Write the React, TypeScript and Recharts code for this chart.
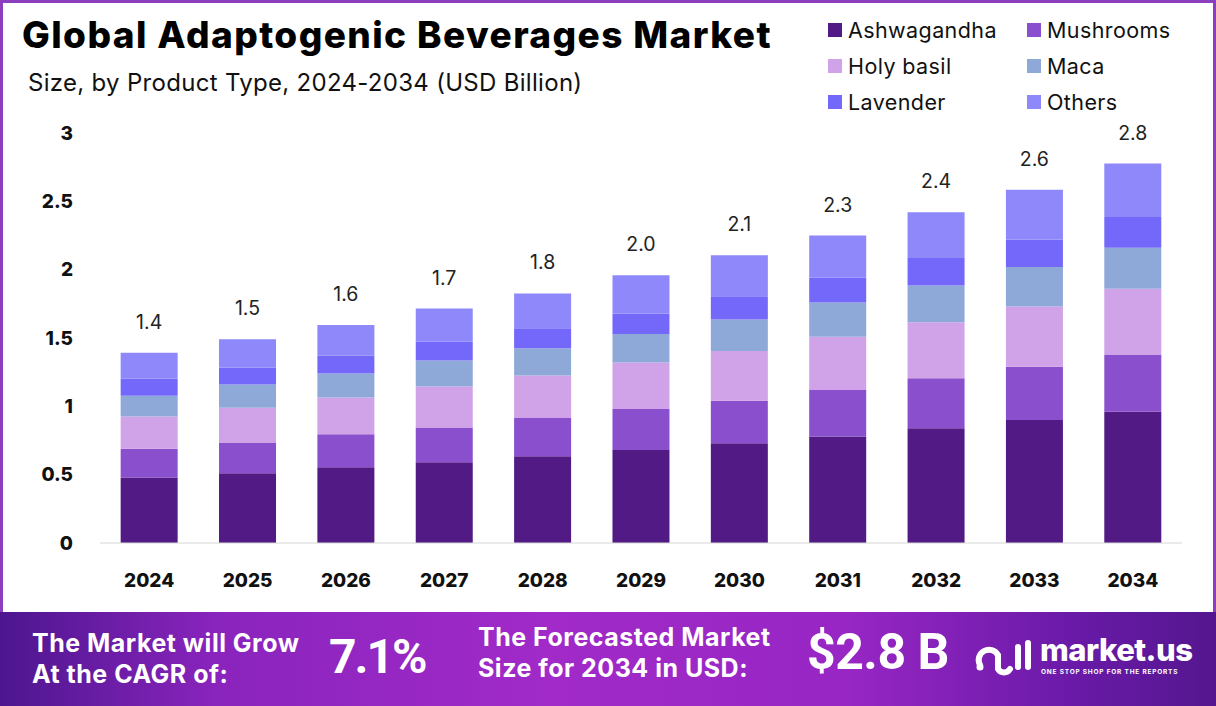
import { BarChart, Bar, XAxis, YAxis, LabelList } from "recharts";

const years = ["2024", "2025", "2026", "2027", "2028", "2029", "2030", "2031", "2032", "2033", "2034"];
const ashwagandha = [0.48, 0.51, 0.555, 0.59, 0.635, 0.68, 0.73, 0.78, 0.84, 0.9, 0.96];
const mushrooms = [0.21, 0.225, 0.24, 0.255, 0.28, 0.3, 0.31, 0.34, 0.365, 0.39, 0.42];
const holyBasil = [0.235, 0.255, 0.27, 0.3, 0.31, 0.34, 0.365, 0.39, 0.41, 0.44, 0.48];
const maca = [0.153, 0.17, 0.175, 0.19, 0.2, 0.21, 0.23, 0.25, 0.27, 0.29, 0.3];
const lavender = [0.124, 0.125, 0.13, 0.14, 0.146, 0.15, 0.17, 0.18, 0.2, 0.2, 0.226];
const others = [0.19, 0.205, 0.225, 0.24, 0.255, 0.28, 0.3, 0.31, 0.335, 0.365, 0.39];
const totals = ["1.4", "1.5", "1.6", "1.7", "1.8", "2.0", "2.1", "2.3", "2.4", "2.6", "2.8"];
const yTicks = [0, 0.5, 1, 1.5, 2, 2.5, 3];

const SERIES = [
  { key: "ashwagandha", name: "Ashwagandha", color: "#511a85" },
  { key: "mushrooms", name: "Mushrooms", color: "#8a4fcc" },
  { key: "holyBasil", name: "Holy basil", color: "#d0a2e8" },
  { key: "maca", name: "Maca", color: "#8ea8d8" },
  { key: "lavender", name: "Lavender", color: "#7468fa" },
  { key: "others", name: "Others", color: "#8e88fb" },
];

const chartData = years.map((year, i) => ({
  year,
  ashwagandha: ashwagandha[i],
  mushrooms: mushrooms[i],
  holyBasil: holyBasil[i],
  maca: maca[i],
  lavender: lavender[i],
  others: others[i],
  total: totals[i],
}));

const FONT = "Inter, 'Open Sans', sans-serif";

const MarketLogo = () => (
  <svg width={58} height={44} viewBox="0 0 58 44">
    <g fill="none" stroke="#fff" strokeWidth={6} strokeLinecap="round">
      <path d="M6 30 A 10 10 0 0 1 24 20 L 24 34 A 7 7 0 0 0 36 34" />
      <line x1={44} y1={12} x2={44} y2={32} />
      <line x1={54} y1={8} x2={54} y2={32} />
    </g>
    <circle cx={6} cy={32} r={3.5} fill="#fff" />
  </svg>
);

const footerText = {
  position: "absolute" as const,
  fontSize: 25,
  lineHeight: "31px",
  letterSpacing: 0.5,
  fontFamily: FONT,
  fontWeight: 700,
  whiteSpace: "nowrap" as const,
};

export default function App() {
  return (
    <div
      style={{
        position: "absolute",
        left: 0,
        top: 0,
        width: 1216,
        height: 706,
        background: "#fff",
        fontFamily: FONT,
        overflow: "hidden",
      }}
    >
      <div
        style={{
          position: "absolute",
          left: 0,
          top: 0,
          width: 1210,
          height: 609,
          border: "3px solid #8b3fbf",
          borderBottom: "none",
        }}
      />
      <div
        style={{
          position: "absolute",
          left: 22,
          top: 12,
          fontSize: 37,
          fontWeight: 800,
          color: "#000",
          letterSpacing: 1.4,
          whiteSpace: "nowrap",
        }}
      >
        Global Adaptogenic Beverages Market
      </div>
      <div
        style={{
          position: "absolute",
          left: 28,
          top: 68,
          fontSize: 24,
          color: "#111",
          letterSpacing: 0.3,
          whiteSpace: "nowrap",
        }}
      >
        Size, by Product Type, 2024-2034 (USD Billion)
      </div>

      {/* legend */}
      <div style={{ position: "absolute", left: 828, top: 17, width: 380 }}>
        {SERIES.map((s, i) => (
          <div
            key={s.key}
            style={{
              position: "absolute",
              left: (i % 2) * 199,
              top: Math.floor(i / 2) * 36,
              display: "flex",
              alignItems: "center",
              fontSize: 21.5,
              letterSpacing: 0.4,
              color: "#111",
              whiteSpace: "nowrap",
            }}
          >
            <span style={{ width: 14, height: 14, background: s.color, display: "inline-block", marginRight: 6 }} />
            {s.name}
          </div>
        ))}
      </div>

      <div style={{ position: "absolute", left: 0, top: 0 }}>
        <BarChart
          width={1216}
          height={612}
          data={chartData}
          margin={{ top: 133, right: 34, left: 20, bottom: 19 }}
          barCategoryGap="21%"
        >
          <XAxis
            dataKey="year"
            height={50}
            tickLine={false}
            tickMargin={25}
            axisLine={{ stroke: "#d6d6d6" }}
            tick={{ fontSize: 19, fontWeight: 800, fill: "#111", fontFamily: FONT }}
          />
          <YAxis
            width={80}
            domain={[0, 3]}
            ticks={yTicks}
            axisLine={false}
            tickLine={false}
            tickMargin={21}
            tick={{ fontSize: 19, fontWeight: 800, fill: "#111", fontFamily: FONT }}
          />
          {SERIES.map((s, i) => (
            <Bar key={s.key} dataKey={s.key} name={s.name} stackId="a" fill={s.color} isAnimationActive={false}>
              {i === SERIES.length - 1 && (
                <LabelList
                  dataKey="total"
                  position="top"
                  offset={24}
                  style={{ fontSize: 19.5, fill: "#222", fontFamily: FONT }}
                />
              )}
            </Bar>
          ))}
        </BarChart>
      </div>

      {/* footer band */}
      <div
        style={{
          position: "absolute",
          left: 0,
          top: 612,
          width: 1216,
          height: 94,
          background: "linear-gradient(90deg, #4d168f 0%, #8a24bd 18%, #a12ac8 45%, #9726c4 70%, #6a1aa8 88%, #54168f 100%)",
          color: "#fff",
          fontFamily: FONT,
          fontWeight: 700,
        }}
      >
        <div style={{ ...footerText, left: 32, top: 16 }}>
          The Market will Grow
          <br />
          At the CAGR of:
        </div>
        <div style={{ position: "absolute", left: 329, top: 18, fontSize: 48, lineHeight: "54px", letterSpacing: -2, fontFamily: "Roboto, sans-serif" }}>
          7.1%
        </div>
        <div style={{ ...footerText, left: 478, top: 10 }}>
          The Forecasted Market
          <br />
          Size for 2034 in USD:
        </div>
        <div style={{ position: "absolute", left: 807, top: 13, fontSize: 50, lineHeight: "54px", letterSpacing: -0.5, fontFamily: "Roboto, sans-serif" }}>
          $2.8 B
        </div>
        <div style={{ position: "absolute", left: 974, top: 23 }}>
          <MarketLogo />
        </div>
        <div style={{ position: "absolute", left: 1040, top: 20, fontSize: 31, lineHeight: "36px", letterSpacing: -0.5, fontWeight: 800 }}>
          market.us
        </div>
        <div style={{ position: "absolute", left: 1041, top: 56, fontSize: 6.5, letterSpacing: 0.8, fontWeight: 700 }}>
          ONE STOP SHOP FOR THE REPORTS
        </div>
      </div>
    </div>
  );
}
